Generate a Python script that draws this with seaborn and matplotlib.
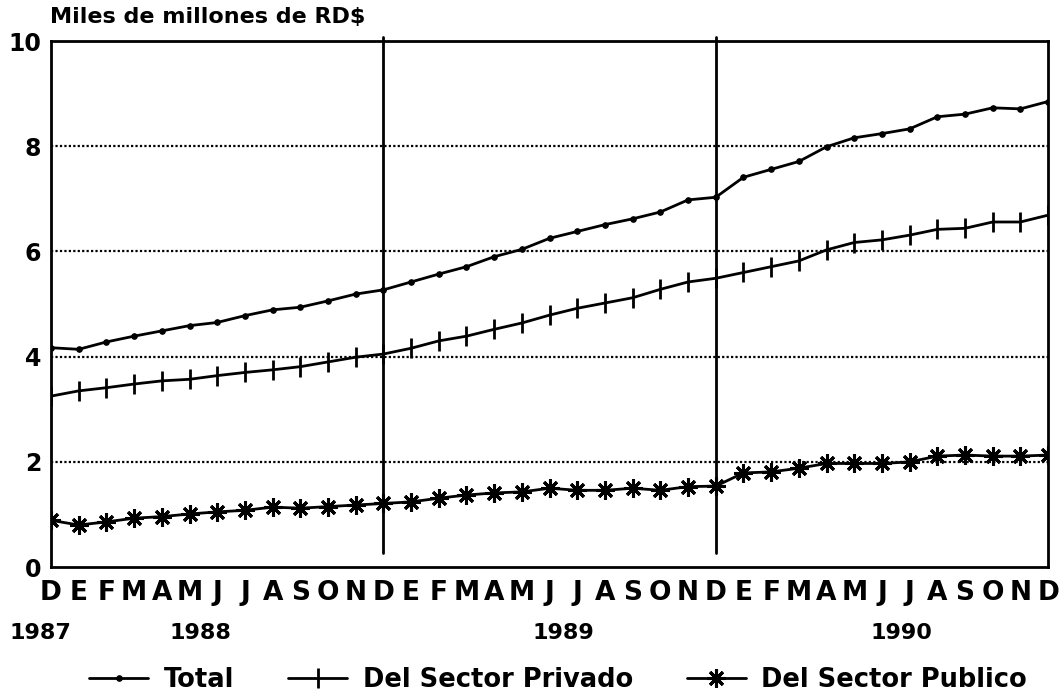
import numpy as np
import pandas as pd
import matplotlib
matplotlib.use("Agg")
import matplotlib.pyplot as plt
import seaborn as sns

# Datos (miles de millones de RD$), dic 1987 - dic 1990
meses = list("DEFMAMJJASON") * 3 + ["D"]
total = [4.17, 4.14, 4.28, 4.39, 4.49, 4.59, 4.65, 4.78, 4.89, 4.94, 5.06, 5.19, 5.27,
         5.42, 5.57, 5.71, 5.90, 6.04, 6.25, 6.38, 6.51, 6.62, 6.75, 6.98, 7.03,
         7.41, 7.56, 7.71, 7.99, 8.16, 8.24, 8.33, 8.56, 8.61, 8.73, 8.71, 8.85]
privado = [3.25, 3.35, 3.41, 3.48, 3.54, 3.57, 3.64, 3.70, 3.75, 3.81, 3.90, 3.99, 4.05,
           4.16, 4.30, 4.39, 4.52, 4.64, 4.79, 4.92, 5.02, 5.12, 5.28, 5.42, 5.49,
           5.60, 5.71, 5.82, 6.03, 6.17, 6.22, 6.31, 6.42, 6.44, 6.56, 6.56, 6.69]
publico = [0.89, 0.80, 0.86, 0.93, 0.96, 1.01, 1.05, 1.08, 1.14, 1.12, 1.15, 1.18, 1.21,
           1.24, 1.31, 1.37, 1.41, 1.43, 1.50, 1.46, 1.46, 1.50, 1.46, 1.53, 1.54,
           1.79, 1.81, 1.88, 1.97, 1.97, 1.97, 2.00, 2.11, 2.13, 2.11, 2.11, 2.13]
anios = ["1987", "1988", "1989", "1990"]
anios_pos = [-0.4, 5.4, 18.5, 30.7]
cortes = [12, 24]

df = pd.DataFrame({"mes": np.arange(len(meses)), "Total": total,
                   "Del Sector Privado": privado, "Del Sector Publico": publico})

sns.set_style("white")
plt.rcParams["font.family"] = ["DejaVu Sans"]
plt.rcParams["font.weight"] = "bold"
plt.rcParams["text.color"] = "black"
plt.rcParams["xtick.color"] = "black"
plt.rcParams["ytick.color"] = "black"

fig = plt.figure(figsize=(10.63, 6.95), dpi=100)
ax = fig.add_axes([0.048, 0.184, 0.938, 0.757])

estilos = {
    "Total": dict(marker="o", markersize=4),
    "Del Sector Privado": dict(marker="|", markersize=15, markeredgewidth=2),
    "Del Sector Publico": dict(marker=(8, 2, 0), markersize=13, markeredgewidth=2.2),
}
for serie, st in estilos.items():
    sns.lineplot(data=df, x="mes", y=serie, ax=ax, color="black", linewidth=2,
                 markeredgecolor="black", label=serie, **st)

# rejilla punteada
for y in [2, 4, 6, 8]:
    ax.axhline(y, color="black", lw=1.6, ls=(0, (1, 1)), zorder=0)
for xv in cortes:
    ax.plot([xv, xv], [0.27, 10.08], color="black", lw=2, clip_on=False)

ax.set_xlim(0, 36)
ax.set_ylim(0, 10)
ax.set_xticks(df["mes"])
ax.set_xticklabels(meses, fontsize=19, fontweight="bold")
ax.set_yticks([0, 2, 4, 6, 8, 10])
ax.set_yticklabels(["0", "2", "4", "6", "8", "10"], fontsize=17, fontweight="bold")
ax.tick_params(axis="x", direction="in", length=9, width=1.6, pad=9)
ax.tick_params(axis="y", length=0, pad=7)
ax.set_xlabel("")
ax.set_ylabel("")
for s in ax.spines.values():
    s.set_linewidth(2)
    s.set_color("black")

trans = ax.get_xaxis_transform()
for a, p in zip(anios, anios_pos):
    ax.text(p, -0.125, a, transform=trans, ha="center", va="center",
            fontsize=16, fontweight="bold")

fig.text(0.047, 0.975, "Miles de millones de RD$", fontsize=16, fontweight="bold",
         ha="left", va="center")

ax.get_legend().remove()
h, l = ax.get_legend_handles_labels()
fig.legend(h, l, loc="center", bbox_to_anchor=(0.525, 0.022), ncol=3,
           frameon=False, handlelength=2.3, handletextpad=0.6, columnspacing=2.1,
           numpoints=1, prop={"weight": "bold", "size": 18.5})

fig.savefig("out.png", dpi=100)
